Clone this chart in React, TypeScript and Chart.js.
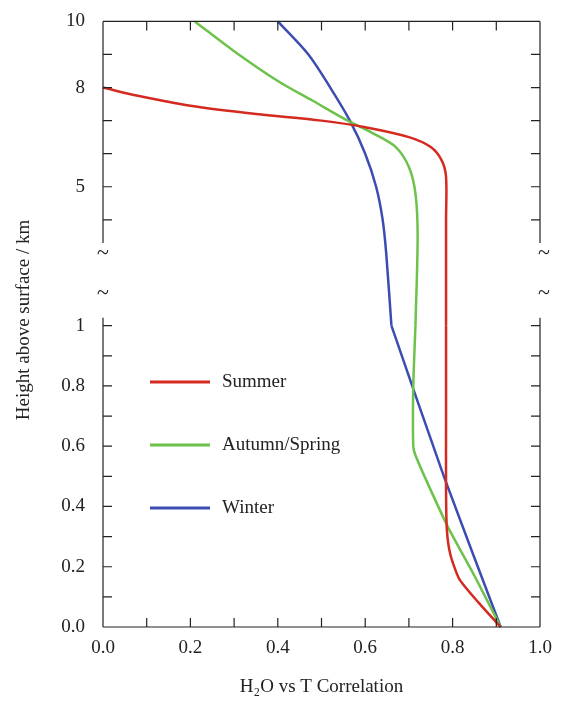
import { useEffect, useRef } from 'react'
import Chart from 'chart.js/auto'

// lower part of the broken axis: 0..1 km, upper part: above 1 km
const summerLow = [[0.91, 0], [0.86, 0.08], [0.815, 0.16], [0.795, 0.24], [0.787, 0.32], [0.785, 0.45], [0.785, 0.7], [0.785, 1.0]]
const summerUp = [[0.785, 0.8], [0.785, 4], [0.785, 5.3], [0.775, 5.8], [0.75, 6.2], [0.7, 6.5], [0.6, 6.8], [0.5, 7.0], [0.35, 7.2], [0.2, 7.45], [0.08, 7.75], [0, 8]]
const autumnLow = [[0.91, 0], [0.85, 0.17], [0.79, 0.33], [0.745, 0.47], [0.715, 0.57], [0.71, 0.6], [0.71, 0.8], [0.715, 1.0]]
const autumnUp = [[0.715, 0.8], [0.72, 3.5], [0.715, 4.8], [0.7, 5.6], [0.67, 6.2], [0.62, 6.6], [0.56, 7.0], [0.48, 7.6], [0.4, 8.2], [0.3, 9.1], [0.21, 10]]
const winterLow = [[0.91, 0], [0.78, 0.5], [0.66, 1.0]]
const winterUp = [[0.66, 0.8], [0.648, 3], [0.64, 4], [0.625, 5], [0.6, 6], [0.565, 7], [0.52, 8], [0.47, 9], [0.4, 10]]

const seasons = ['Summer', 'Autumn/Spring', 'Winter']
const colors = ['#d42a20', '#6cc24a', '#3b4db0']
const xLabels = [0, 0.2, 0.4, 0.6, 0.8, 1.0]
const lowLabels = [0, 0.2, 0.4, 0.6, 0.8, 1.0]
const upTicks = [4, 5, 6, 7, 8, 9, 10]
const upLabels = [5, 8, 10]

const FONT = '"Liberation Serif", "Times New Roman", serif'

const pts = (a: number[][]) => a.map(([x, y]) => ({ x, y }))

const near = (v: number, arr: number[]) => arr.some(a => Math.abs(a - v) < 1e-6)

const framePlugin = {
  id: 'frame',
  afterDatasetsDraw(chart: any) {
    const { ctx, chartArea: ca, scales } = chart
    const yl = scales.y, yu = scales.yUp, x = scales.x
    const gapTop = yu.getPixelForValue(3.3)
    const gapBot = yl.getPixelForValue(1.0) - 8
    ctx.save()
    ctx.strokeStyle = '#222'
    ctx.lineWidth = 1.2
    ctx.beginPath()
    ctx.moveTo(ca.left, ca.top); ctx.lineTo(ca.right, ca.top)
    ctx.moveTo(ca.left, ca.bottom); ctx.lineTo(ca.right, ca.bottom)
    for (const px of [ca.left, ca.right]) {
      ctx.moveTo(px, ca.top); ctx.lineTo(px, gapTop)
      ctx.moveTo(px, gapBot); ctx.lineTo(px, ca.bottom)
    }
    for (let i = 0; i <= 10; i++) {
      const p = x.getPixelForValue(i / 10)
      ctx.moveTo(p, ca.bottom); ctx.lineTo(p, ca.bottom - 9)
      ctx.moveTo(p, ca.top); ctx.lineTo(p, ca.top + 9)
    }
    for (let i = 0; i <= 10; i++) {
      const p = yl.getPixelForValue(i / 10)
      ctx.moveTo(ca.left, p); ctx.lineTo(ca.left + 9, p)
      ctx.moveTo(ca.right, p); ctx.lineTo(ca.right - 9, p)
    }
    for (const v of upTicks) {
      const p = yu.getPixelForValue(v)
      ctx.moveTo(ca.left, p); ctx.lineTo(ca.left + 9, p)
      ctx.moveTo(ca.right, p); ctx.lineTo(ca.right - 9, p)
    }
    ctx.stroke()
    ctx.fillStyle = '#222'
    ctx.font = '22px ' + FONT
    ctx.textAlign = 'center'
    ctx.textBaseline = 'middle'
    for (const px of [ca.left, ca.right + 4]) {
      ctx.fillText('~', px, gapTop + 10)
      ctx.fillText('~', px, gapBot - 24)
    }
    // axis title spanning both parts
    ctx.font = '19px ' + FONT
    ctx.save()
    ctx.translate(24, 320)
    ctx.rotate(-Math.PI / 2)
    ctx.fillText('Height above surface / km', 0, 0)
    ctx.restore()
    // legend
    ctx.textAlign = 'left'
    seasons.forEach((s, i) => {
      const yy = 382 + i * 63
      ctx.strokeStyle = colors[i]
      ctx.lineWidth = 3
      ctx.beginPath(); ctx.moveTo(150, yy); ctx.lineTo(210, yy); ctx.stroke()
      ctx.fillText(s, 222, yy)
    })
    ctx.restore()
  },
}

const App = () => {
  const chartRef = useRef<HTMLCanvasElement>(null)

  useEffect(() => {
    document.body.style.margin = '0'
    if (!chartRef.current) return
    const lows = [summerLow, autumnLow, winterLow]
    const ups = [summerUp, autumnUp, winterUp]
    const datasets: any[] = []
    seasons.forEach((s, i) => {
      datasets.push({ label: s, data: pts(lows[i]), yAxisID: 'y', borderColor: colors[i], borderWidth: 2.5, pointRadius: 0, tension: 0.2 })
      datasets.push({ label: s, data: pts(ups[i]), yAxisID: 'yUp', borderColor: colors[i], borderWidth: 2.5, pointRadius: 0, tension: 0.3 })
    })
    const tickFont = { family: FONT, size: 19 }
    const myChart = new Chart(chartRef.current, {
      type: 'line',
      data: { datasets },
      options: {
        animation: false,
        responsive: false,
        clip: false as any,
        layout: { padding: { top: 4, right: 29, left: 0, bottom: 0 } },
        plugins: { legend: { display: false }, tooltip: { enabled: false } },
        scales: {
          x: {
            type: 'linear', min: 0, max: 1,
            grid: { display: false }, border: { display: false },
            ticks: {
              stepSize: 0.1, color: '#222', font: tickFont, padding: 2, maxRotation: 0,
              callback: (v: any) => (near(v, xLabels) ? Number(v).toFixed(1) : ''),
            },
            title: { display: true, text: 'H₂O vs T Correlation', color: '#222', font: tickFont, padding: { top: 4 } },
            afterFit: (s: any) => { s.height = 75 },
          },
          y: {
            type: 'linear', min: 0, max: 1, stack: 'h', stackWeight: 305, position: 'left',
            grid: { display: false }, border: { display: false },
            ticks: {
              stepSize: 0.1, color: '#222', font: tickFont, padding: 10,
              callback: (v: any) => (near(v, lowLabels) ? (near(v, [1]) ? '1' : Number(v).toFixed(1)) : ''),
            },
            afterFit: (s: any) => { s.width = 103 },
          },
          yUp: {
            type: 'linear', min: 0.8, max: 10, stack: 'h', stackWeight: 308, position: 'left', offset: false,
            grid: { display: false }, border: { display: false },
            afterBuildTicks: (s: any) => { s.ticks = upLabels.map(v => ({ value: v })) },
            ticks: { color: '#222', font: tickFont, padding: 10, callback: (v: any) => String(v) },
            afterFit: (s: any) => { s.width = 103 },
          },
        },
      } as any,
      plugins: [framePlugin],
    })
    return () => { myChart.destroy() }
  }, [])

  return <canvas ref={chartRef} width={569} height={702} />
}

export default App
